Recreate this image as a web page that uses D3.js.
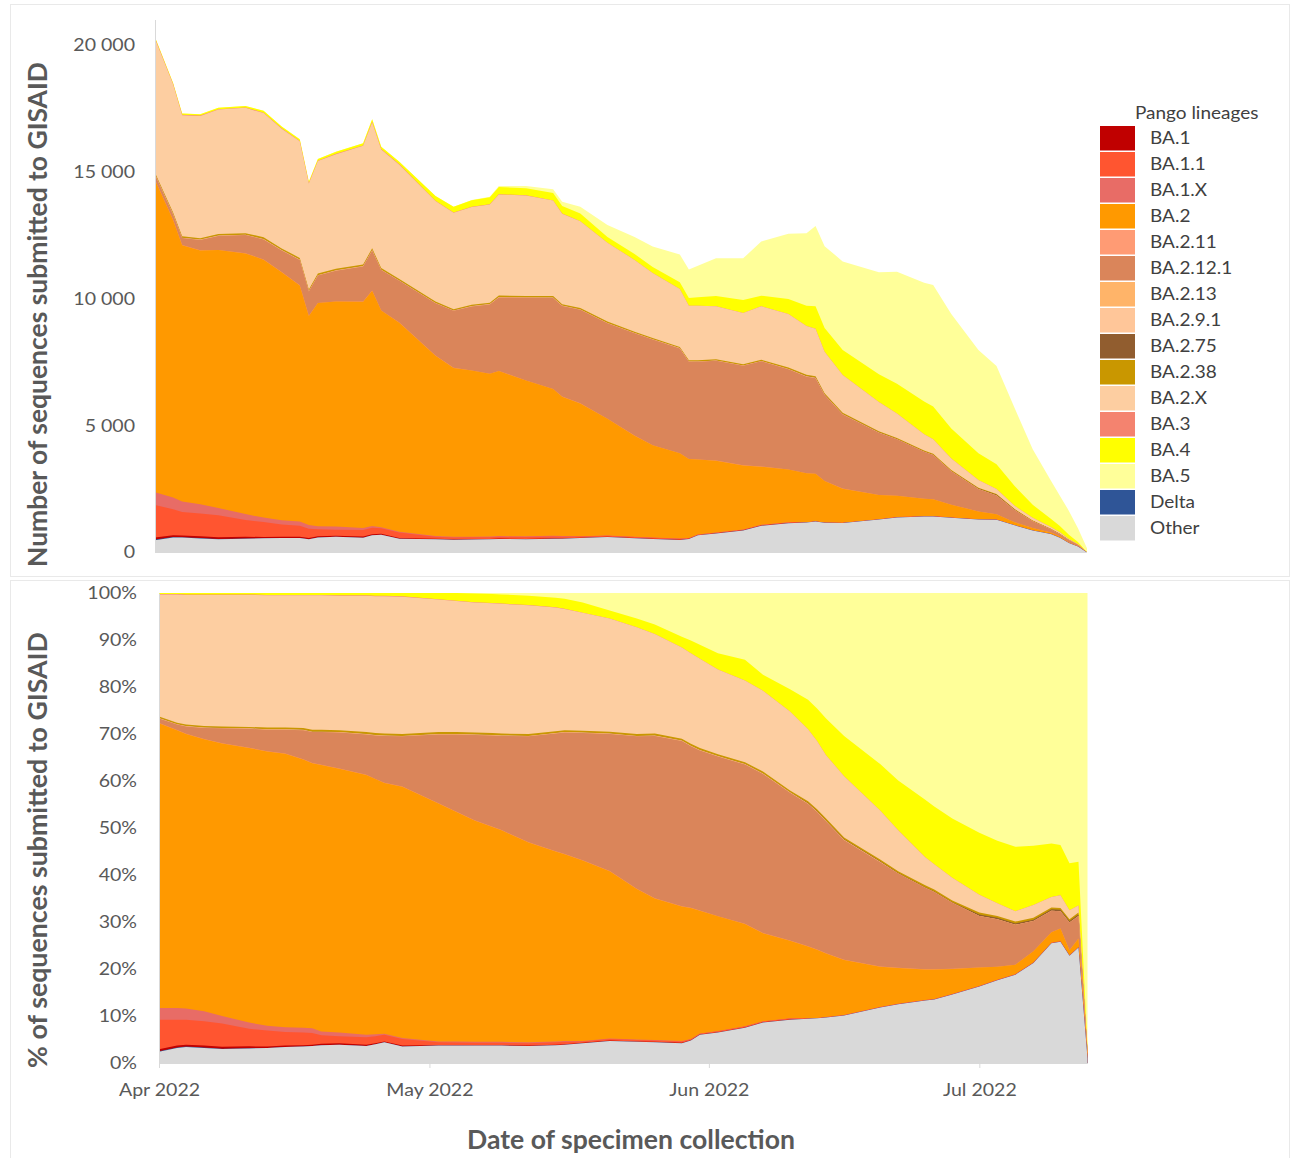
<!DOCTYPE html>
<html>
<head>
<meta charset="utf-8">
<script src="https://cdn.jsdelivr.net/npm/d3@7"></script>
<style>
  html, body { margin: 0; padding: 0; background: #ffffff; }
  svg { display: block; }
</style>
</head>
<body>
<svg id="chart" width="1291" height="1158"></svg>
<script>
// ---- Data -------------------------------------------------------------
// Sampling dates (date of specimen collection)
const dates = [
  "2022-04-01","2022-04-03","2022-04-04","2022-04-06","2022-04-08","2022-04-11","2022-04-13","2022-04-15",
  "2022-04-17","2022-04-18","2022-04-19","2022-04-21","2022-04-24","2022-04-25","2022-04-26","2022-04-28",
  "2022-05-02","2022-05-04","2022-05-06","2022-05-08","2022-05-09","2022-05-12","2022-05-15","2022-05-16",
  "2022-05-18","2022-05-21","2022-05-24","2022-05-26","2022-05-29","2022-05-30","2022-05-31","2022-06-02",
  "2022-06-05","2022-06-07","2022-06-10","2022-06-12","2022-06-13","2022-06-14","2022-06-16","2022-06-20",
  "2022-06-22","2022-06-25","2022-06-26","2022-06-28","2022-07-01","2022-07-03","2022-07-05","2022-07-07",
  "2022-07-09","2022-07-10","2022-07-11","2022-07-12","2022-07-13"
];

// Number of sequences submitted to GISAID per date (all lineages)
const totalSequences = [
  20300, 18500, 17300, 17270, 17520, 17590, 17400, 16780, 16280, 14610, 15500, 15790, 16120, 17070, 15990, 15400,
  14050, 13620, 13890, 14020, 14440, 14440, 14310, 13820, 13625, 12905, 12430, 12060, 11740, 11150, 11300, 11590,
  11590, 12250, 12560, 12575, 12865, 12070, 11470, 11040, 11065, 10630, 10540, 9400, 7980, 7350, 5690, 4070,
  2840, 2240, 1640, 960, 170
];

// Share of each Pango lineage (% of sequences) per date
const shareOther = [2.4, 3.2, 3.4, 3.2, 3.0, 3.1, 3.2, 3.4, 3.5, 3.6, 3.8, 3.9, 3.6, 4.0, 4.4, 3.5,
  3.7, 3.7, 3.7, 3.7, 3.7, 3.6, 3.8, 3.9, 4.2, 4.7, 4.5, 4.4, 4.2, 4.8, 6.0, 6.5,
  7.5, 8.6, 9.2, 9.4, 9.5, 9.7, 10.1, 11.8, 12.5, 13.3, 13.5, 14.6, 16.3, 17.6, 18.8, 21.3,
  25.5, 25.8, 22.8, 24.6, 1.0];
const shareDelta = [0.1, 0.1, 0.1, 0.1, 0.05, 0.05, 0, 0, 0, 0, 0, 0, 0, 0, 0, 0,
  0, 0, 0, 0, 0, 0, 0, 0, 0, 0, 0, 0, 0, 0, 0, 0,
  0, 0, 0, 0, 0, 0, 0, 0, 0, 0, 0, 0, 0, 0, 0, 0,
  0, 0, 0, 0, 0];
const shareBA1 = [0.4, 0.4, 0.4, 0.4, 0.4, 0.4, 0.3, 0.3, 0.3, 0.3, 0.3, 0.3, 0.3, 0.2, 0.2, 0.2,
  0.15, 0.15, 0.1, 0.1, 0.1, 0.1, 0.1, 0.1, 0.1, 0.1, 0.1, 0.1, 0.1, 0.05, 0.05, 0.05,
  0.05, 0.05, 0.05, 0, 0, 0, 0, 0, 0, 0, 0, 0, 0, 0, 0, 0,
  0, 0, 0, 0, 0];
const shareBA1_1 = [6.3, 5.5, 5.3, 5.2, 4.95, 3.75, 3.4, 2.9, 2.7, 2.5, 1.8, 1.5, 1.6, 1.5, 1.4, 1.4,
  0.55, 0.5, 0.5, 0.5, 0.5, 0.5, 0.5, 0.5, 0.3, 0.3, 0.3, 0.3, 0.3, 0.2, 0.2, 0.2,
  0.2, 0.2, 0.2, 0.1, 0.1, 0.1, 0.1, 0.1, 0.1, 0.1, 0.1, 0.1, 0.1, 0.1, 0.1, 0.1,
  0.1, 0.1, 0.1, 0.1, 0];
const shareBA1_X = [2.5, 2.5, 2.4, 2.1, 1.6, 1.3, 1.0, 1.0, 1.0, 1.0, 0.8, 0.8, 0.5, 0.4, 0.2, 0.2,
  0.2, 0.2, 0.2, 0.2, 0.2, 0.2, 0.2, 0.2, 0.1, 0.1, 0.1, 0.1, 0.1, 0.05, 0.05, 0.05,
  0.05, 0.05, 0.05, 0, 0, 0, 0, 0, 0, 0, 0, 0, 0, 0, 0, 0,
  0, 0, 0, 0, 0];
const shareBA2 = [60.6, 59.1, 58.4, 57.9, 58.0, 58.4, 58.4, 58.2, 57.1, 56.4, 56.7, 56.1, 55.3, 54.3, 53.4, 53.5,
  50.6, 48.85, 47.1, 45.7, 45.0, 42.5, 40.4, 39.7, 38.4, 35.6, 32.0, 30.1, 28.6, 27.9, 26.1, 24.4,
  21.8, 18.7, 16.5, 15.3, 14.5, 13.5, 11.7, 8.6, 7.6, 6.5, 6.3, 5.3, 3.9, 2.8, 2.0, 2.4,
  2.2, 2.7, 1.1, 1.8, 1.0];
const shareBA2_11 = [0.05, 0.05, 0.05, 0.05, 0.05, 0.05, 0.05, 0.05, 0.05, 0.05, 0.05, 0.05, 0.05, 0.05, 0.05, 0.05,
  0.05, 0.05, 0.05, 0.05, 0.05, 0.05, 0.05, 0.05, 0.05, 0.05, 0.05, 0.05, 0.05, 0.05, 0.05, 0.05,
  0.05, 0.05, 0.05, 0.05, 0.05, 0.05, 0.05, 0.05, 0.05, 0.05, 0.05, 0.05, 0, 0, 0, 0,
  0, 0, 0, 0, 0];
const shareBA2_12_1 = [0.95, 1.15, 1.55, 2.35, 3.15, 4.05, 4.55, 5.05, 6.15, 6.55, 6.95, 7.65, 8.55, 9.25, 9.95, 10.65,
  14.65, 16.45, 18.15, 19.45, 20.05, 22.55, 25.05, 25.85, 27.05, 29.15, 32.45, 34.55, 35.15, 34.35, 34.05, 33.95,
  33.85, 33.85, 31.45, 30.25, 29.25, 28.05, 25.45, 22.15, 20.05, 17.35, 16.45, 14.05, 11.0, 10.1, 8.5, 6.4,
  4.6, 3.7, 5.9, 4.8, 0.5];
const shareBA2_13 = [0.05, 0.05, 0.05, 0.05, 0.05, 0.05, 0.05, 0.05, 0.05, 0.05, 0.05, 0.05, 0.05, 0.05, 0.05, 0.05,
  0.05, 0.05, 0.05, 0.05, 0.05, 0.05, 0.05, 0.05, 0.05, 0.05, 0.05, 0.05, 0.05, 0.05, 0.05, 0.05,
  0.05, 0.05, 0.05, 0.05, 0.05, 0.05, 0.05, 0.05, 0, 0, 0, 0, 0, 0, 0, 0,
  0, 0, 0, 0, 0];
const shareBA2_9_1 = [0.05, 0.05, 0.05, 0.05, 0.05, 0.05, 0.05, 0.05, 0.05, 0.05, 0.05, 0.05, 0.05, 0.05, 0.05, 0.05,
  0.05, 0.05, 0.05, 0.05, 0.05, 0.05, 0.05, 0.05, 0.05, 0.05, 0.05, 0.05, 0.05, 0.05, 0.05, 0.05,
  0.05, 0.05, 0.05, 0.05, 0.05, 0.05, 0.05, 0.05, 0, 0, 0, 0, 0, 0, 0, 0,
  0, 0, 0, 0, 0];
const shareBA2_75 = [0, 0, 0, 0, 0, 0, 0, 0, 0, 0, 0, 0, 0, 0, 0, 0,
  0, 0, 0, 0, 0, 0, 0, 0, 0, 0, 0, 0, 0, 0, 0, 0,
  0, 0, 0, 0.1, 0.1, 0.1, 0.1, 0.1, 0.1, 0.1, 0.1, 0.1, 0.3, 0.3, 0.3, 0.3,
  0.3, 0.3, 0.3, 0.3, 0];
const shareBA2_38 = [0.3, 0.3, 0.3, 0.3, 0.3, 0.3, 0.4, 0.4, 0.4, 0.4, 0.4, 0.4, 0.4, 0.4, 0.4, 0.4,
  0.4, 0.4, 0.4, 0.4, 0.4, 0.4, 0.4, 0.4, 0.4, 0.4, 0.4, 0.4, 0.4, 0.4, 0.4, 0.4,
  0.4, 0.4, 0.4, 0.4, 0.4, 0.4, 0.4, 0.4, 0.4, 0.4, 0.4, 0.4, 0.4, 0.4, 0.4, 0.4,
  0.4, 0.4, 0.4, 0.4, 0];
const shareBA2_X = [26.0, 27.3, 27.6, 27.9, 28.0, 28.1, 28.1, 28.1, 28.2, 28.6, 28.6, 28.6, 29.0, 29.1, 29.2, 29.2,
  28.2, 27.9, 27.7, 27.6, 27.6, 27.4, 26.3, 25.8, 25.1, 24.1, 22.7, 21.2, 19.4, 19.3, 19.0, 18.0,
  17.4, 17.2, 16.8, 15.3, 14.5, 13.5, 13.0, 10.4, 8.7, 6.0, 5.4, 4.8, 3.8, 2.7, 2.2, 2.7,
  2.2, 2.7, 1.9, 1.5, 0.3];
const shareBA3 = [0.1, 0.1, 0.1, 0.1, 0.1, 0.1, 0.1, 0.1, 0.1, 0.1, 0.1, 0.1, 0.1, 0.1, 0.1, 0.1,
  0.05, 0.05, 0.05, 0.05, 0.05, 0.05, 0.05, 0.05, 0, 0, 0, 0, 0, 0, 0, 0,
  0, 0, 0, 0, 0, 0, 0, 0, 0, 0, 0, 0, 0, 0, 0, 0,
  0, 0, 0, 0, 0];
const shareBA4 = [0.2, 0.2, 0.3, 0.3, 0.3, 0.3, 0.4, 0.4, 0.4, 0.4, 0.4, 0.5, 0.5, 0.6, 0.6, 0.7,
  1.35, 1.65, 1.85, 1.95, 1.95, 1.95, 2.05, 2.15, 2.2, 1.7, 1.9, 2.0, 2.3, 2.7, 3.0, 3.5,
  4.4, 3.4, 4.7, 6.3, 6.9, 7.8, 8.6, 9.9, 10.6, 12.2, 12.3, 12.6, 13.2, 13.3, 13.7, 12.6,
  11.4, 10.7, 10.0, 9.3, 0.7];
const shareBA5 = [0, 0, 0, 0, 0, 0, 0, 0, 0, 0, 0, 0, 0, 0, 0, 0,
  0, 0, 0.1, 0.2, 0.3, 0.6, 1.0, 1.2, 2.0, 3.7, 5.4, 6.7, 9.3, 10.1, 11.0, 12.8,
  14.2, 17.4, 20.5, 22.7, 24.6, 26.7, 30.4, 36.4, 39.9, 44.0, 45.4, 48.0, 51.0, 52.7, 54.0, 53.8,
  53.3, 53.6, 57.5, 57.2, 96.5];

// Legend order (top to bottom)
const legendLineages = ["BA.1", "BA.1.1", "BA.1.X", "BA.2", "BA.2.11", "BA.2.12.1", "BA.2.13", "BA.2.9.1",
  "BA.2.75", "BA.2.38", "BA.2.X", "BA.3", "BA.4", "BA.5", "Delta", "Other"];
// Stacking order (bottom layer first)
const stackOrder = ["Other", "Delta", "BA.1", "BA.1.1", "BA.1.X", "BA.2", "BA.2.11", "BA.2.12.1", "BA.2.13",
  "BA.2.9.1", "BA.2.75", "BA.2.38", "BA.2.X", "BA.3", "BA.4", "BA.5"];

const lineageColors = {
  "BA.1": "#C00000", "BA.1.1": "#FF5530", "BA.1.X": "#E86C66", "BA.2": "#FF9900",
  "BA.2.11": "#FF9B74", "BA.2.12.1": "#DA855A", "BA.2.13": "#FFB469", "BA.2.9.1": "#FFC699",
  "BA.2.75": "#915D2F", "BA.2.38": "#C99700", "BA.2.X": "#FDCEA1", "BA.3": "#F4836F",
  "BA.4": "#FFFF00", "BA.5": "#FFFF99", "Delta": "#2F5597", "Other": "#D9D9D9"
};

const countTicks = [0, 5000, 10000, 15000, 20000];
const percentTicks = [0, 0.1, 0.2, 0.3, 0.4, 0.5, 0.6, 0.7, 0.8, 0.9, 1];
const monthTicks = ["2022-04-01", "2022-05-01", "2022-06-01", "2022-07-01"];

// ---- Build rows: counts per lineage --------------------------------------
const shares = {
  "Other": shareOther, "Delta": shareDelta, "BA.1": shareBA1, "BA.1.1": shareBA1_1, "BA.1.X": shareBA1_X,
  "BA.2": shareBA2, "BA.2.11": shareBA2_11, "BA.2.12.1": shareBA2_12_1, "BA.2.13": shareBA2_13,
  "BA.2.9.1": shareBA2_9_1, "BA.2.75": shareBA2_75, "BA.2.38": shareBA2_38, "BA.2.X": shareBA2_X,
  "BA.3": shareBA3, "BA.4": shareBA4, "BA.5": shareBA5
};
const parseDate = d3.timeParse("%Y-%m-%d");
const rows = dates.map((ds, i) => {
  const row = { date: parseDate(ds) };
  const sum = d3.sum(stackOrder, k => shares[k][i]);
  stackOrder.forEach(k => { row[k] = totalSequences[i] * shares[k][i] / sum; });
  return row;
});

// ---- Setup ---------------------------------------------------------------
const FONT = "Lato, 'Open Sans', 'DejaVu Sans', sans-serif";
const STRETCH = 1.15;            // horizontal widening of the small labels
const TICK_COLOR = "#595959";
const AXIS_LINE = "#d9d9d9";
const svg = d3.select("#chart");

// panel frames
svg.append("rect").attr("x", 10.5).attr("y", 4.5).attr("width", 1279).attr("height", 572)
  .attr("fill", "none").attr("stroke", "#e9e9e9");
svg.append("rect").attr("x", 10.5).attr("y", 580.5).attr("width", 1279).attr("height", 600)
  .attr("fill", "none").attr("stroke", "#e9e9e9");

const domainDates = [parseDate(dates[0]), parseDate(dates[dates.length - 1])];

// ---- Top panel: counts ---------------------------------------------------
const xTop = d3.scaleTime().domain(domainDates).range([155, 1087]);
const yTop = d3.scaleLinear().domain([0, 21000]).range([552.5, 19.5]);
const seriesTop = d3.stack().keys(stackOrder)(rows);

const areaTop = d3.area()
  .x(d => xTop(d.data.date))
  .y0(yTop(0))
  .y1(d => yTop(d[1]));

// each layer is filled from the baseline, uppermost first, so no seams appear
svg.append("g").selectAll("path")
  .data(seriesTop.slice().reverse())
  .join("path")
  .attr("d", areaTop)
  .attr("fill", d => lineageColors[d.key]);

const thousands = d3.formatLocale({ decimal: ",", thousands: "\u00a0", grouping: [3], currency: ["", ""] }).format(",");

const gyTop = svg.append("g").attr("transform", "translate(155,0)")
  .call(d3.axisLeft(yTop).tickValues(countTicks).tickFormat(thousands).tickSize(0).tickPadding(20));
gyTop.attr("font-family", FONT).attr("font-size", 17);
gyTop.select(".domain").attr("stroke", AXIS_LINE);
gyTop.selectAll(".tick text").attr("fill", TICK_COLOR).attr("x", null)
  .attr("transform", `translate(-20,0) scale(${STRETCH},1)`);

svg.append("line").attr("x1", 155).attr("x2", 1087).attr("y1", 552.5).attr("y2", 552.5)
  .attr("stroke", AXIS_LINE);

// ---- Bottom panel: percentages ------------------------------------------
const xBot = d3.scaleTime().domain(domainDates).range([159, 1087.5]);
const yBot = d3.scaleLinear().domain([0, 1]).range([1063, 593]);
const seriesBot = d3.stack().keys(stackOrder).offset(d3.stackOffsetExpand)(rows);

const areaBot = d3.area()
  .x(d => xBot(d.data.date))
  .y0(yBot(0))
  .y1(d => yBot(d[1]));

svg.append("g").selectAll("path")
  .data(seriesBot.slice().reverse())
  .join("path")
  .attr("d", areaBot)
  .attr("fill", d => lineageColors[d.key]);

const gyBot = svg.append("g").attr("transform", "translate(159,0)")
  .call(d3.axisLeft(yBot).tickValues(percentTicks).tickFormat(d3.format(".0%")).tickSize(0).tickPadding(22));
gyBot.attr("font-family", FONT).attr("font-size", 17);
gyBot.select(".domain").attr("stroke", AXIS_LINE);
gyBot.selectAll(".tick text").attr("fill", TICK_COLOR).attr("x", null)
  .attr("transform", `translate(-22,0) scale(${STRETCH},1)`);

const gxBot = svg.append("g").attr("transform", "translate(0,1063)")
  .call(d3.axisBottom(xBot).tickValues(monthTicks.map(parseDate))
    .tickFormat(d3.timeFormat("%b %Y")).tickSizeInner(5).tickSizeOuter(0).tickPadding(16));
gxBot.attr("font-family", FONT).attr("font-size", 17);
gxBot.select(".domain").attr("stroke", AXIS_LINE);
gxBot.selectAll(".tick line").attr("stroke", AXIS_LINE);
gxBot.selectAll(".tick text").attr("fill", TICK_COLOR)
  .attr("transform", `scale(${STRETCH},1)`);

// ---- Axis titles -----------------------------------------------------------
function fitLength(sel, target) {
  const base = 20;
  sel.style("font-size", base + "px");
  const len = sel.node().getComputedTextLength();
  sel.style("font-size", (base * target / len) + "px");
}

const titleTop = svg.append("text")
  .attr("transform", "translate(47,314.5) rotate(-90)")
  .attr("text-anchor", "middle")
  .attr("font-family", FONT).attr("font-weight", "bold").attr("fill", TICK_COLOR)
  .text("Number of sequences submitted to GISAID");
fitLength(titleTop, 505);

const titleBot = svg.append("text")
  .attr("transform", "translate(47,850) rotate(-90)")
  .attr("text-anchor", "middle")
  .attr("font-family", FONT).attr("font-weight", "bold").attr("fill", TICK_COLOR)
  .text("% of sequences submitted to GISAID");
fitLength(titleBot, 436);

const titleX = svg.append("text")
  .attr("x", 631).attr("y", 1149)
  .attr("text-anchor", "middle")
  .attr("font-family", FONT).attr("font-weight", "bold").attr("fill", TICK_COLOR)
  .text("Date of specimen collection");
fitLength(titleX, 328);

// ---- Legend ------------------------------------------------------------------
const legend = svg.append("g").attr("font-family", FONT);
legend.append("text")
  .attr("transform", `translate(1135,119) scale(${STRETCH},1)`)
  .attr("font-size", 16.5).attr("fill", "#404040")
  .text("Pango lineages");

const items = legend.selectAll("g.item")
  .data(legendLineages)
  .join("g")
  .attr("class", "item")
  .attr("transform", (d, i) => `translate(1100,${126 + i * 26})`);
items.append("rect")
  .attr("width", 35).attr("height", 24.5)
  .attr("fill", d => lineageColors[d]);
items.append("text")
  .attr("transform", `translate(50,12.5) scale(${STRETCH},1)`)
  .attr("dy", "0.35em")
  .attr("font-size", 16.5).attr("fill", "#404040")
  .text(d => d);
</script>
</body>
</html>
